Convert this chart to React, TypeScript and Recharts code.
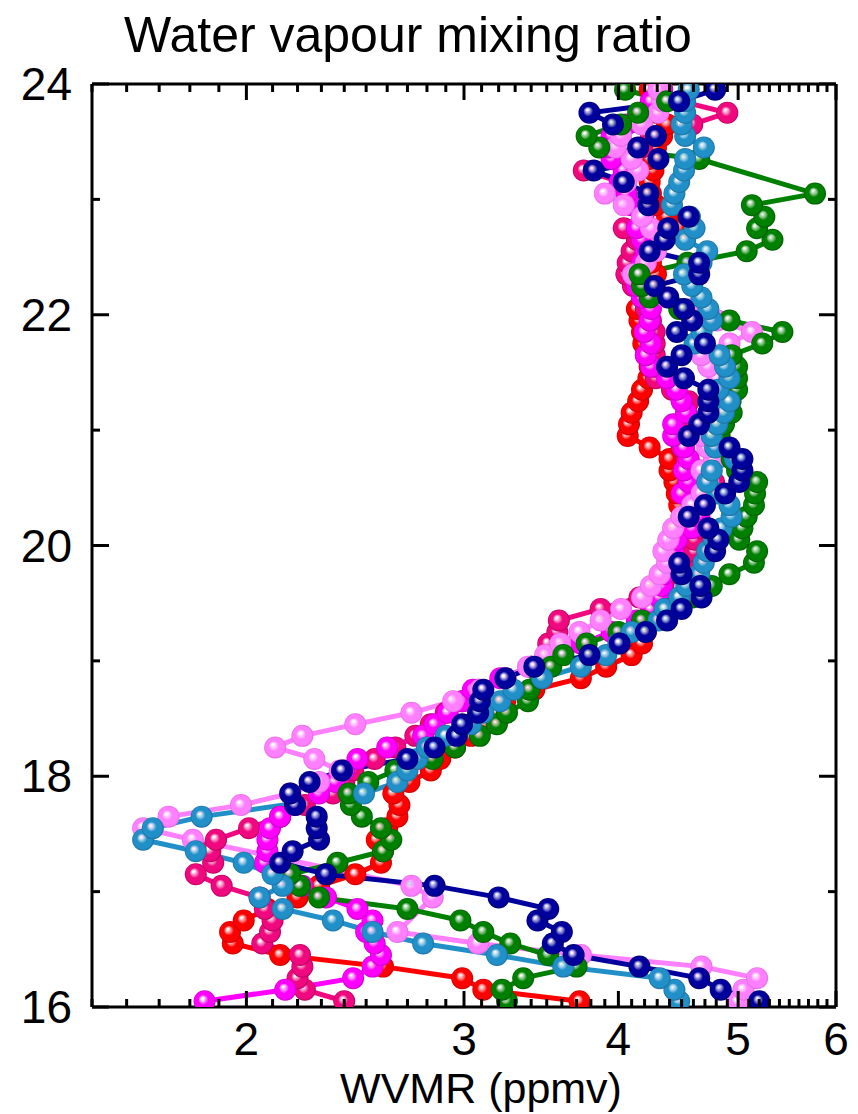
import React from "react";
import { LineChart, Line, XAxis, YAxis } from "recharts";

// altitude levels (km), shared by all profiles
const ALT = [
  16.05, 16.15, 16.25, 16.35, 16.45, 16.55, 16.65, 16.75, 16.85, 16.95,
  17.05, 17.15, 17.25, 17.35, 17.45, 17.55, 17.65, 17.75, 17.85, 17.95,
  18.05, 18.15, 18.25, 18.35, 18.45, 18.55, 18.65, 18.75, 18.85, 18.95,
  19.05, 19.15, 19.25, 19.35, 19.45, 19.55, 19.65, 19.75, 19.85, 19.95,
  20.05, 20.15, 20.25, 20.35, 20.45, 20.55, 20.65, 20.75, 20.85, 20.95,
  21.05, 21.15, 21.25, 21.35, 21.45, 21.55, 21.65, 21.75, 21.85, 21.95,
  22.05, 22.15, 22.25, 22.35, 22.45, 22.55, 22.65, 22.75, 22.85, 22.95,
  23.05, 23.15, 23.25, 23.35, 23.45, 23.55, 23.65, 23.75, 23.85, 23.95,
];

// WVMR (ppmv) per profile, one value per altitude level
const RED = [
  3.72, 3.11, 2.99, 2.58, 2.13, 1.95, 1.94, 1.99, 2.08, 2.2,
  2.29, 2.45, 2.57, 2.58, 2.55, 2.6, 2.65, 2.66, 2.63, 2.71,
  2.82, 2.87, 2.95, 3.04, 3.12, 3.19, 3.24, 3.42, 3.73, 3.91,
  4.1, 4.18, 4.21, 4.24, 4.25, 4.29, 4.31, 4.35, 4.42, 4.48,
  4.54, 4.46, 4.5, 4.48, 4.46, 4.44, 4.4, 4.4, 4.24, 4.07,
  4.08, 4.1, 4.15, 4.18, 4.23, 4.24, 4.21, 4.19, 4.18, 4.16,
  4.14, 4.21, 4.25, 4.29, 4.25, 4.24, 4.34, 4.48, 4.38, 4.29,
  4.25, 4.24, 4.27, 4.24, 4.29, 4.34, 4.38, 4.29, 4.25, 4.24,
];
const ROSE = [
  2.4, 2.23, 2.2, 2.22, 2.21, 2.06, 2.09, 2.1, 2.07, 2.05,
  1.91, 1.82, 1.88, 1.87, 1.89, 2.01, 2.13, 2.23, 2.35, 2.4,
  2.44, 2.54, 2.64, 2.74, 2.82, 2.9, 2.99, 3.08, 3.24, 3.4,
  3.51, 3.51, 3.57, 3.58, 3.87, 4.16, 4.35, 4.61, 4.65, 4.61,
  4.61, 4.67, 4.65, 4.67, 4.74, 4.78, 4.65, 4.54, 4.5, 4.46,
  4.5, 4.54, 4.56, 4.42, 4.29, 4.28, 4.28, 4.28, 4.28, 4.25,
  4.21, 4.18, 4.11, 4.06, 4.07, 4.1, 4.14, 4.04, 4.18, 4.1,
  4.06, 4.02, 3.75, 3.98, 4.18, 4.25, 4.59, 4.9, 4.5, 4.34,
];
const MAGENTA = [
  1.85, 2.15, 2.44, 2.53, 2.57, 2.54, 2.5, 2.53, 2.46, 2.32,
  2.22, 2.15, 2.07, 2.08, 2.08, 2.09, 2.13, 2.19, 2.29, 2.36,
  2.4, 2.46, 2.6, 2.78, 2.84, 2.91, 2.99, 3.05, 3.21, 3.4,
  3.56, 3.73, 3.95, 4.14, 4.25, 4.32, 4.34, 4.35, 4.4, 4.43,
  4.46, 4.59, 4.65, 4.59, 4.5, 4.56, 4.52, 4.56, 4.52, 4.43,
  4.43, 4.54, 4.5, 4.46, 4.38, 4.25, 4.21, 4.25, 4.2, 4.24,
  4.25, 4.18, 4.14, 4.11, 4.18, 4.21, 4.18, 4.14, 4.19, 4.1,
  4.06, 4.01, 4.04, 3.95, 3.93, 3.95, 4.06, 4.18, 4.25, 4.34,
];
const VIOLET = [
  5.0, 5.05, 5.18, 4.67, 3.73, 3.08, 2.65, null, null, 2.83,
  2.72, null, null, null, 1.81, 1.65, 1.73, 1.98, 2.17, 2.29,
  2.38, 2.27, 2.11, 2.22, 2.45, 2.72, 2.94, 3.09, 3.24, 3.38,
  3.49, 3.59, 3.72, 3.87, 4.02, 4.18, 4.25, 4.32, 4.38, 4.35,
  4.39, 4.43, 4.5, 4.59, 4.67, 4.73, 4.67, 4.78, 4.72, 4.67,
  4.73, 4.78, 4.9, 4.97, 4.81, 4.73, 4.67, 4.92, 5.13, 4.81,
  4.59, 4.38, 4.18, 4.11, 4.21, 4.29, 4.34, 4.25, 4.18, 4.04,
  3.9, 4.06, 4.15, 4.1, 3.98, 4.02, 4.18, 4.31, 4.34, 4.31,
];
const GREEN = [
  3.25, 3.22, 3.35, 3.7, 3.51, 3.27, 3.11, 2.98, 2.7, 2.29,
  2.21, 2.17, 2.37, 2.58, 2.62, 2.57, 2.48, 2.43, 2.42, 2.51,
  2.64, 2.83, 2.95, 3.09, 3.19, 3.25, 3.38, 3.39, 3.46, 3.53,
  3.61, 3.77, 4.0, 4.18, 4.38, 4.59, 4.76, 4.92, 5.15, 5.18,
  5.01, 5.04, 5.08, 5.15, 5.16, 5.18, 4.99, 4.94, 4.9, 4.83,
  4.87, 4.94, 4.93, 4.99, 4.99, 4.99, 4.94, 5.23, 5.43, 4.92,
  4.48, 4.24, 4.18, 4.16, 4.55, 5.08, 5.33, 5.18, 5.25, 5.13,
  5.77, null, null, 4.65, 3.86, 3.77, 4.02, 4.15, 4.38, 4.05,
];
const SKY = [
  4.48, 4.44, 4.32, 3.61, 3.19, 2.78, 2.53, 2.35, 2.14, 2.05,
  2.14, 2.1, 1.99, 1.82, 1.65, 1.68, 1.84, null, 2.49, 2.65,
  2.7, 2.75, 2.8, 2.9, 3.04, 3.11, 3.21, 3.29, 3.47, 3.73,
  3.91, 4.0, 4.1, 4.31, 4.36, 4.48, 4.54, 4.65, 4.69, 4.72,
  4.78, 4.85, 4.94, 4.92, 4.81, 4.72, 4.76, 4.97, 4.79, 4.76,
  4.81, 4.87, 4.92, 4.82, 4.92, 4.88, 4.83, 4.61, 4.67, 4.76,
  4.73, 4.67, 4.59, 4.52, 4.67, 4.72, 4.53, 4.61, 4.57, 4.42,
  4.44, 4.48, 4.52, 4.53, 4.69, 4.53, 4.5, 4.53, 4.53, 4.56,
];
const NAVY = [
  5.2, 4.84, 4.65, 4.16, 3.68, 3.54, 3.6, 3.44, 3.51, 3.2,
  2.84, 2.32, 2.13, 2.18, 2.29, 2.28, 2.28, 2.19, 2.17, 2.25,
  2.39, 2.7, 2.84, 2.96, 2.99, 3.08, 3.09, 3.11, 3.24, 3.42,
  3.79, 4.01, 4.21, 4.38, 4.5, 4.67, 4.66, 4.5, 4.48, 4.79,
  4.82, 4.73, 4.56, 4.7, 4.88, 5.01, 5.04, 5.04, 4.92, 4.56,
  4.65, 4.73, 4.73, 4.73, 4.52, 4.38, 4.5, 4.7, 4.46, 4.59,
  4.52, 4.39, 4.28, 4.65, 4.65, 4.24, 4.36, 4.39, 4.56, 4.23,
  4.23, 4.04, 3.82, 4.31, 4.15, 4.29, 3.96, 3.79, 4.48, 4.79,
];

const X_TICKS = [
  1.5, 1.6, 1.7, 1.8, 1.9, 2, 2.1, 2.2, 2.3, 2.4, 2.5, 2.6, 2.7, 2.8, 2.9,
  3, 3.1, 3.2, 3.3, 3.4, 3.5, 3.6, 3.7, 3.8, 3.9, 4, 4.1, 4.2, 4.3, 4.4,
  4.5, 4.6, 4.7, 4.8, 4.9, 5, 5.1, 5.2, 5.3, 5.4, 5.5, 5.6, 5.7, 5.8, 5.9, 6,
];
const X_LABELS = [2, 3, 4, 5, 6];
const Y_TICKS = [16, 17, 18, 19, 20, 21, 22, 23, 24];
const Y_LABELS = [16, 18, 20, 22, 24];

// drawn bottom to top
const SERIES = [
  { key: "red", values: RED, color: "#ff0000", edge: "#c80000", gap: false },
  { key: "rose", values: ROSE, color: "#f0087f", edge: "#b80060", gap: false },
  { key: "magenta", values: MAGENTA, color: "#ff00ff", edge: "#c800c8", gap: false },
  { key: "violet", values: VIOLET, color: "#ff80ff", edge: "#e468e4", gap: false },
  { key: "green", values: GREEN, color: "#008000", edge: "#005c00", gap: true },
  { key: "sky", values: SKY, color: "#2290c8", edge: "#1a70a2", gap: false },
  { key: "navy", values: NAVY, color: "#00009c", edge: "#000070", gap: false },
];

const FONT = '"Liberation Sans", Arial, Helvetica, sans-serif';
const TICK_FONT = 46;

const data = ALT.map((alt, i) => {
  const row: Record<string, number | null> = { alt };
  SERIES.forEach((s) => {
    row[s.key] = s.values[i];
  });
  return row;
});

const isLabel = (list: number[], v: number) =>
  list.some((l) => Math.abs(l - v) < 1e-6);

function BottomTick(props: any) {
  const { x, y, payload } = props;
  const major = isLabel(X_LABELS, payload.value);
  return (
    <g>
      <line x1={x} x2={x} y1={y} y2={y - (major ? 16 : 8)} stroke="#000" strokeWidth={3} />
      {major && (
        <text x={x} y={y + 48} textAnchor="middle" fontSize={TICK_FONT} fontFamily={FONT} fill="#000">
          {payload.value}
        </text>
      )}
    </g>
  );
}

function TopTick(props: any) {
  const { x, y, payload } = props;
  const major = isLabel(X_LABELS, payload.value);
  return <line x1={x} x2={x} y1={y} y2={y + (major ? 16 : 8)} stroke="#000" strokeWidth={3} />;
}

function LeftTick(props: any) {
  const { x, y, payload } = props;
  const major = isLabel(Y_LABELS, payload.value);
  return (
    <g>
      <line x1={x} x2={x + (major ? 17 : 8)} y1={y} y2={y} stroke="#000" strokeWidth={3} />
      {major && (
        <text x={x - 20} y={y + 16} textAnchor="end" fontSize={TICK_FONT} fontFamily={FONT} fill="#000">
          {payload.value}
        </text>
      )}
    </g>
  );
}

function RightTick(props: any) {
  const { x, y, payload } = props;
  const major = isLabel(Y_LABELS, payload.value);
  return <line x1={x} x2={x - (major ? 17 : 8)} y1={y} y2={y} stroke="#000" strokeWidth={3} />;
}

const renderBall = (id: string) => (props: any) => {
  const { cx, cy, index } = props;
  if (cx == null || cy == null || Number.isNaN(cx) || Number.isNaN(cy)) {
    return <g key={`${id}-${index}`} />;
  }
  return <circle key={`${id}-${index}`} cx={cx} cy={cy} r={11} fill={`url(#ball-${id})`} />;
};

const axisLine = { stroke: "#000", strokeWidth: 3 };

export default function App() {
  return (
    <div style={{ position: "relative", width: 842, height: 1106 }}>
      <svg width={0} height={0} style={{ position: "absolute" }}>
        <defs>
          {SERIES.map((s) => (
            <radialGradient key={s.key} id={`ball-${s.key}`} cx="50%" cy="50%" r="50%" fx="40%" fy="38%">
              <stop offset="0%" stopColor="#ffffff" />
              <stop offset="10%" stopColor="#ffffff" stopOpacity={0.8} />
              <stop offset="45%" stopColor={s.color} />
              <stop offset="85%" stopColor={s.color} />
              <stop offset="100%" stopColor={s.edge} />
            </radialGradient>
          ))}
        </defs>
      </svg>
      <LineChart
        width={842}
        height={1106}
        data={data}
        layout="vertical"
        margin={{ top: 0, right: 0, bottom: 0, left: 0 }}
      >
        <XAxis
          type="number"
          scale="log"
          domain={[1.5, 6]}
          allowDataOverflow
          ticks={X_TICKS}
          interval={0}
          height={107}
          axisLine={axisLine}
          tickLine={false}
          tickSize={0}
          tickMargin={0}
          tick={<BottomTick />}
          label={{
            content: () => (
              <text x={473} y={1095} textAnchor="middle" fontSize={43} fontFamily={FONT} fill="#000">
                WVMR (ppmv)
              </text>
            ),
          }}
        />
        <XAxis
          xAxisId="top"
          orientation="top"
          type="number"
          scale="log"
          domain={[1.5, 6]}
          allowDataOverflow
          ticks={X_TICKS}
          interval={0}
          height={76}
          axisLine={axisLine}
          tickLine={false}
          tickSize={0}
          tickMargin={0}
          tick={<TopTick />}
          label={{
            content: () => (
              <text x={400} y={44} textAnchor="middle" fontSize={50} fontFamily={FONT} fill="#000">
                Water vapour mixing ratio
              </text>
            ),
          }}
        />
        <YAxis
          type="number"
          dataKey="alt"
          domain={[16, 24]}
          allowDataOverflow
          reversed
          ticks={Y_TICKS}
          interval={0}
          width={84}
          axisLine={axisLine}
          tickLine={false}
          tickSize={0}
          tickMargin={0}
          tick={<LeftTick />}
        />
        <YAxis
          yAxisId="right"
          orientation="right"
          type="number"
          dataKey="alt"
          domain={[16, 24]}
          allowDataOverflow
          reversed
          ticks={Y_TICKS}
          interval={0}
          width={14}
          axisLine={axisLine}
          tickLine={false}
          tickSize={0}
          tickMargin={0}
          tick={<RightTick />}
        />
        {SERIES.map((s) => (
          <Line
            key={s.key}
            type="linear"
            dataKey={s.key}
            stroke={s.color}
            strokeWidth={5}
            connectNulls={!s.gap}
            dot={renderBall(s.key)}
            activeDot={false}
            isAnimationActive={false}
          />
        ))}
      </LineChart>
    </div>
  );
}
